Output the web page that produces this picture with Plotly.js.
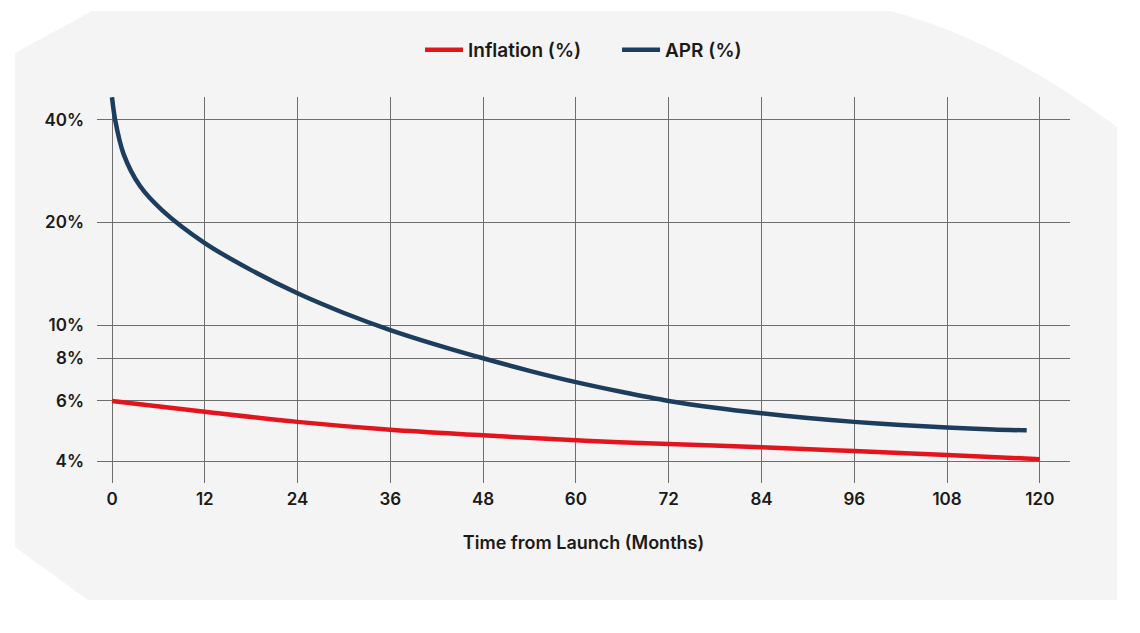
<!DOCTYPE html>
<html>
<head>
<meta charset="utf-8">
<script src="https://cdn.plot.ly/plotly-3.0.1.min.js"></script>
<style>
  html, body { margin: 0; padding: 0; background: #ffffff; }
  #chart { width: 1140px; height: 633px; }
</style>
</head>
<body>
<div id="chart"></div>
<script>
// Months since launch and the rates (in %) at those months
const inflationMonths = [0, 12, 24, 36, 48, 60, 72, 84, 96, 108, 120];
const inflationPct    = [6.0, 5.58, 5.21, 4.94, 4.76, 4.60, 4.49, 4.39, 4.28, 4.17, 4.05];

const aprMonths = [0, 0.4, 1.5, 3.6, 6.5, 12, 18, 24, 30, 36, 42, 48, 54, 60, 66, 72, 78, 84, 90, 96, 102, 108, 114, 118.3];
const aprPct    = [46.5, 40, 31.7, 25.6, 21.7, 17.4, 14.5, 12.4, 10.86, 9.68, 8.76, 8.0, 7.35, 6.81, 6.37, 6.0, 5.73, 5.52, 5.35, 5.21, 5.10, 5.02, 4.95, 4.92];

// Axis ticks
const xTicks = [0, 12, 24, 36, 48, 60, 72, 84, 96, 108, 120];
const yTicks = [4, 6, 8, 10, 20, 40];
const yTickLabels = ['4%', '6%', '8%', '10%', '20%', '40%'];

const W = 1140, H = 633;
const M = { l: 97, r: 70, t: 97, b: 150 };
const plotW = W - M.l - M.r, plotH = H - M.t - M.b;
// pixel -> paper coordinates for the backdrop panel and legend
const px = v => ((v - M.l) / plotW).toFixed(4);
const py = v => ((H - M.b - v) / plotH).toFixed(4);

const panelPath =
  `M ${px(15)},${py(53)} L ${px(92)},${py(11)} L ${px(890)},${py(11)} ` +
  `Q ${px(1000)},${py(40)} ${px(1117)},${py(127)} L ${px(1117)},${py(600)} ` +
  `L ${px(88)},${py(600)} L ${px(15)},${py(547)} Z`;

const font = { family: 'Inter, "Noto Sans", sans-serif', size: 17, color: '#1a1a1a', weight: 600 };

const traces = [
  {
    x: inflationMonths, y: inflationPct, name: 'Inflation (%)',
    type: 'scatter', mode: 'lines',
    line: { color: '#e3141c', width: 4.5, shape: 'spline', smoothing: 1 },
    cliponaxis: false
  },
  {
    x: aprMonths, y: aprPct, name: 'APR (%)',
    type: 'scatter', mode: 'lines',
    line: { color: '#1c3d5e', width: 4.5, shape: 'spline', smoothing: 0.8 },
    cliponaxis: false
  }
];

const layout = {
  width: W, height: H,
  margin: M,
  paper_bgcolor: '#ffffff',
  plot_bgcolor: 'rgba(0,0,0,0)',
  font: font,
  showlegend: true,
  legend: {
    orientation: 'h', x: px(420), xanchor: 'left', y: py(50), yanchor: 'middle',
    font: { ...font, size: 19 }, bgcolor: 'rgba(0,0,0,0)', itemwidth: 38,
    entrywidth: 144, entrywidthmode: 'pixels'
  },
  xaxis: {
    range: [-1.94, 123.9],
    tickmode: 'array', tickvals: xTicks,
    showgrid: true, gridcolor: '#6e6e6e', gridwidth: 1,
    zeroline: false, showline: false, ticks: '',
    ticklabelstandoff: 4,
    tickfont: { ...font, size: 17 },
    title: { text: 'Time from Launch (Months)', font: { ...font, size: 18 }, standoff: 28 }
  },
  yaxis: {
    type: 'log',
    range: [Math.log10(3.45), Math.log10(46.6)],
    tickmode: 'array', tickvals: yTicks, ticktext: yTickLabels,
    showgrid: true, gridcolor: '#6e6e6e', gridwidth: 1,
    zeroline: false, showline: false, ticks: '',
    ticklabelstandoff: 12,
    tickfont: { ...font, size: 17 }
  },
  shapes: [{
    type: 'path', xref: 'paper', yref: 'paper', layer: 'below',
    path: panelPath, fillcolor: '#f4f4f4', line: { width: 0 }
  }]
};

Plotly.newPlot('chart', traces, layout, { displayModeBar: false, staticPlot: true });
</script>
</body>
</html>
